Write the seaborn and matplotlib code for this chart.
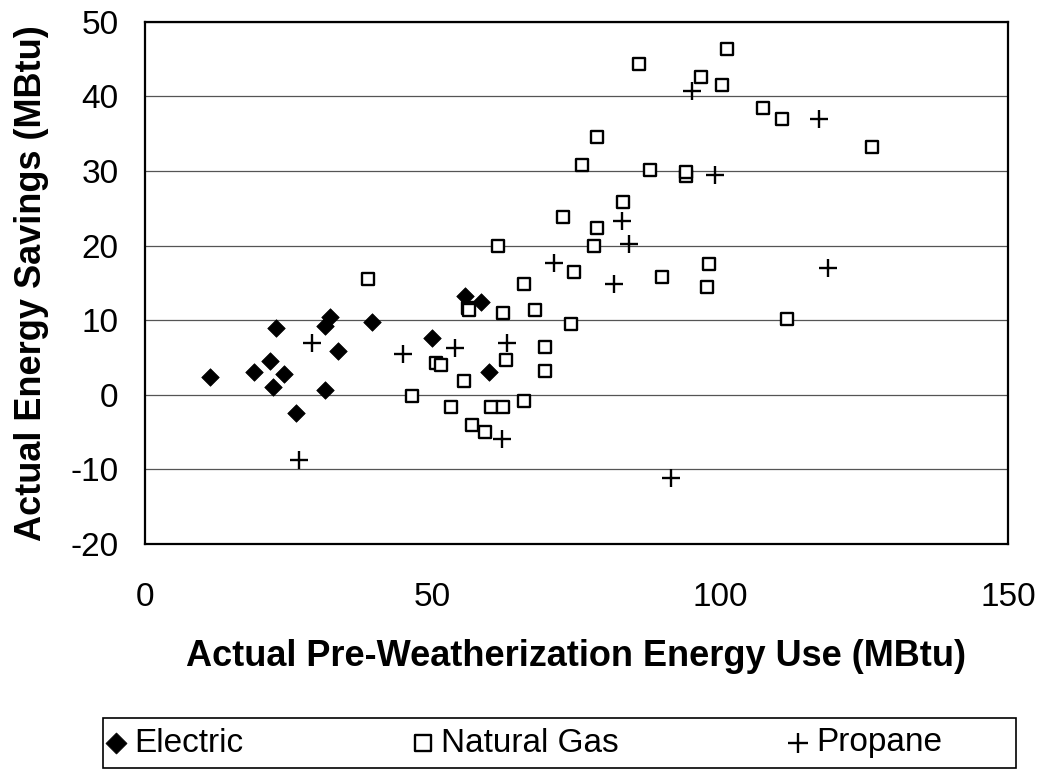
import matplotlib
matplotlib.use("Agg")
import matplotlib.pyplot as plt
import matplotlib.patches as patches
import seaborn as sns

# Series (MBtu)
electric_x = [11.3, 19.0, 21.8, 22.2, 24.1, 22.7, 26.3, 31.3, 31.3, 32.2, 33.6, 39.5, 49.9, 55.7, 58.4, 59.8]
electric_y = [2.4, 3.1, 4.5, 1.0, 2.8, 9.0, -2.5, 0.6, 9.2, 10.4, 5.9, 9.7, 7.6, 13.2, 12.5, 3.1]

gas_x = [38.8, 46.4, 50.5, 51.4, 53.2, 55.4, 56.1, 56.3, 56.8, 59.1, 60.1, 62.3, 61.3, 62.2, 62.7,
         65.9, 65.9, 67.7, 69.5, 69.5, 72.7, 74.0, 74.5, 75.9, 78.1, 78.5, 78.5, 83.1, 85.8, 87.7,
         89.9, 94.0, 94.0, 96.7, 97.6, 98.1, 100.3, 101.2, 107.5, 110.7, 111.6, 126.4]
gas_y = [15.5, -0.1, 4.3, 4.0, -1.6, 1.9, 11.6, 11.3, -4.0, -5.0, -1.6, -1.6, 20.0, 10.9, 4.7,
         -0.9, 14.8, 11.3, 6.4, 3.2, 23.8, 9.5, 16.5, 30.8, 20.0, 22.4, 34.6, 25.9, 44.3, 30.1,
         15.8, 29.3, 29.8, 42.6, 14.4, 17.5, 41.5, 46.4, 38.4, 37.0, 10.2, 33.2]

propane_x = [26.8, 29.0, 44.9, 53.9, 62.1, 63.0, 71.1, 81.6, 82.9, 84.2, 91.5, 95.0, 99.1, 117.2, 118.7]
propane_y = [-8.7, 6.9, 5.5, 6.3, -5.9, 6.9, 17.7, 14.9, 23.3, 20.2, -11.2, 40.7, 29.5, 36.9, 17.0]

x_ticks = [0, 50, 100, 150]
y_ticks = [-20, -10, 0, 10, 20, 30, 40, 50]

sns.set_theme(style="white")
plt.rcParams["font.family"] = ["Liberation Sans", "DejaVu Sans"]
plt.rcParams["axes.unicode_minus"] = False
plt.rcParams["text.color"] = "black"
plt.rcParams["axes.labelcolor"] = "black"

fig = plt.figure(figsize=(10.45, 7.76), dpi=100)
ax = fig.add_axes([145 / 1045, 1 - 544 / 776, 863 / 1045, 522.3 / 776])

# Three series, drawn one by one (filled and line-art markers can't be mixed)
sns.scatterplot(x=electric_x, y=electric_y, marker="D", s=80, color="black",
                edgecolor="black", linewidth=0.5, label="Electric", ax=ax, zorder=3)
sns.scatterplot(x=gas_x, y=gas_y, marker="s", s=85, facecolor="white",
                edgecolor="black", linewidth=1.7, label="Natural Gas", ax=ax, zorder=3)
sns.scatterplot(x=propane_x, y=propane_y, marker="+", s=150, color="black",
                linewidth=1.7, label="Propane", ax=ax, zorder=3)

ax.set_xlim(0, 150)
ax.set_ylim(-20, 50)
ax.set_xticks(x_ticks)
ax.set_yticks(y_ticks)
ax.yaxis.grid(True, color="#555555", linewidth=0.9)
ax.xaxis.grid(False)
ax.set_axisbelow(True)

for sp in ax.spines.values():
    sp.set_color("black")
    sp.set_linewidth(1.6)

ax.tick_params(axis="both", direction="out", length=7, width=0.9, color="black",
               labelsize=24, labelcolor="black")
ax.tick_params(axis="x", pad=20)
ax.tick_params(axis="y", pad=12)

ax.set_xlabel("Actual Pre-Weatherization Energy Use (MBtu)", fontsize=26, fontweight="bold")
ax.set_ylabel("Actual Energy Savings (MBtu)", fontsize=26, fontweight="bold")
ax.xaxis.set_label_coords(0.5, -0.182)
ax.yaxis.set_label_coords(-0.111, 0.5)

# Legend below the plot, with an outer box like the original
handles, labels = ax.get_legend_handles_labels()
ax.legend(handles, labels, ncol=3, frameon=False, fontsize=24,
          loc="center left", bbox_to_anchor=(105 / 1045, 1 - 743 / 776),
          bbox_transform=fig.transFigure, borderpad=0, borderaxespad=0,
          handlelength=0.65, handletextpad=0.23, columnspacing=5.05, markerscale=1.2)
fig.add_artist(patches.Rectangle((103 / 1045, 1 - 768 / 776), 913 / 1045, 50 / 776,
                                 transform=fig.transFigure, fill=False,
                                 edgecolor="black", linewidth=1.2))

fig.savefig("out.png", dpi=100)
